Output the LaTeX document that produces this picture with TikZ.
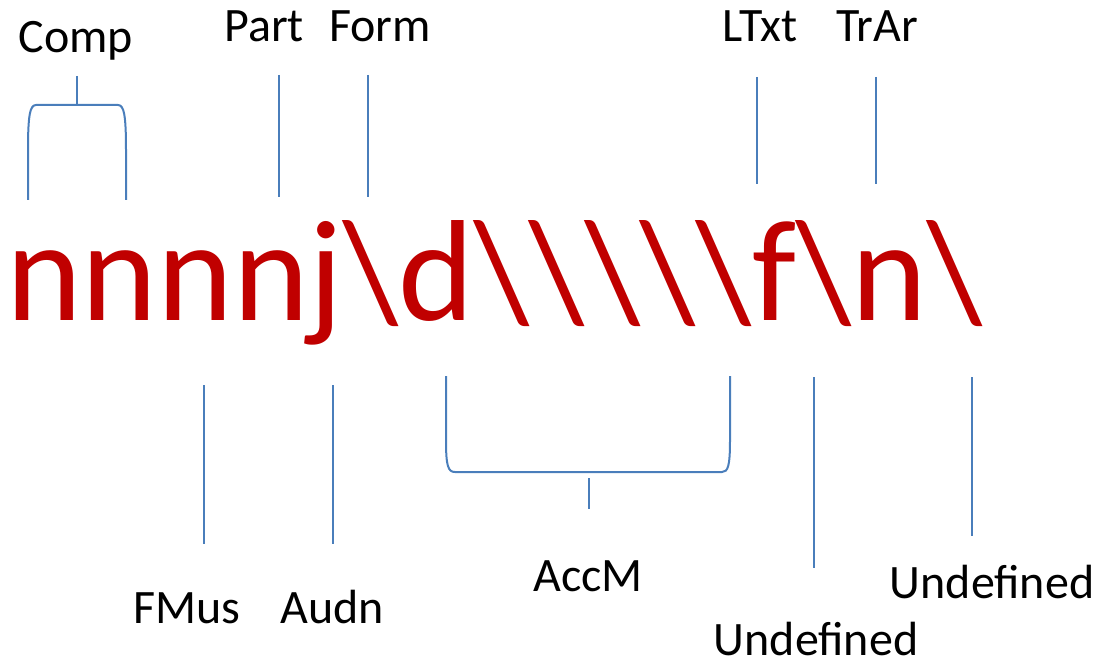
\documentclass[tikz,border=0pt]{standalone}
\usepackage{fontspec}
\setmainfont{Carlito}
\usepackage{xcolor}
\usepackage{tikz}
\definecolor{markred}{HTML}{C00000}
\definecolor{tickblue}{HTML}{4A7EBB}

\begin{document}
\begin{tikzpicture}[x=1pt,y=-1pt,
  tick/.style={draw=tickblue,line width=2pt},
  tag/.style={anchor=base,inner sep=0pt,font=\fontsize{48}{52}\selectfont}]
\useasboundingbox (0,0) rectangle (1097,663);
\node[anchor=base west,inner sep=0pt,text=markred,font=\fontsize{144}{150}\selectfont] (code) at (6,320)
  {nnnnj\textbackslash d\textbackslash\textbackslash\textbackslash\textbackslash\textbackslash f\textbackslash n\textbackslash};
%% labels above
\node[tag] (comp) at (76,53) {Comp};
\node[tag] (part) at (264,42) {Part};
\node[tag] (form) at (380,42) {Form};
\node[tag] (ltxt) at (760,42) {LTxt};
\node[tag] (trar) at (877,42) {TrAr};
%% labels below
\node[tag] (fmus) at (187,623) {FMus};
\node[tag] (audn) at (332,623) {Audn};
\node[tag] (accm) at (588,591) {AccM};
\node[tag] (undefA) at (816,655) {Undefined};
\node[tag] (undefB) at (992,598) {Undefined};
%% brace over the first letters
\draw[tick] (28,200) coordinate (compL) -- (28,150) .. controls (28,115) and (30,105) .. (36,105)
  -- (118,105) .. controls (124,105) and (126,115) .. (126,150) -- (126,200) coordinate (compR);
\draw[tick] (77,76) coordinate (compS) -- (77,105);
\draw[tick] (279,75) coordinate (partA) -- (279,197) coordinate (partB);
\draw[tick] (368,75) coordinate (formA) -- (368,197) coordinate (formB);
\draw[tick] (757,77) coordinate (ltxtA) -- (757,184) coordinate (ltxtB);
\draw[tick] (876,77) coordinate (trarA) -- (876,184) coordinate (trarB);
%% below the letters
\draw[tick] (204,385) coordinate (fmusA) -- (204,544) coordinate (fmusB);
\draw[tick] (333,385) coordinate (audnA) -- (333,544) coordinate (audnB);
\draw[tick] (446,376) coordinate (accmL) -- (446,440) .. controls (446,466) and (448,472) .. (455,472)
  -- (722,472) .. controls (728,472) and (730,466) .. (730,440) -- (730,376) coordinate (accmR);
\draw[tick] (589,478) coordinate (accmS) -- (589,509);
\draw[tick] (814,377) coordinate (undefAa) -- (814,568) coordinate (undefAb);
\draw[tick] (972,377) coordinate (undefBa) -- (972,536) coordinate (undefBb);
\end{tikzpicture}
\end{document}
